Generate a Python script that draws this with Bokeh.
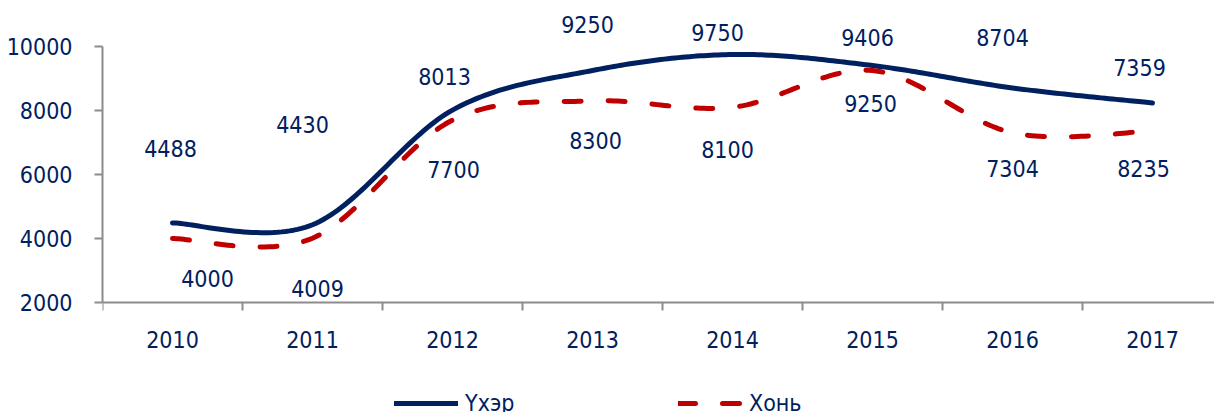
import numpy as np
from bokeh.plotting import figure
from bokeh.models import ColumnDataSource, FixedTicker, Range1d, Legend, LegendItem
from bokeh.core.properties import value
from bokeh.embed import file_html
from bokeh.resources import INLINE

# ---------------- data ----------------
years = ["2010", "2011", "2012", "2013", "2014", "2015", "2016", "2017"]
cattle = [4488, 4430, 8013, 9250, 9750, 9406, 8704, 8235]   # Үхэр
sheep = [4000, 4009, 7700, 8300, 8100, 9250, 7304, 7359]    # Хонь
cattle_labels = ["4488", "4430", "8013", "9250", "9750", "9406", "8704", "7359"]
sheep_labels = ["4000", "4009", "7700", "8300", "8100", "9250", "7304", "8235"]
y_ticks = [2000, 4000, 6000, 8000, 10000]
series_names = ["Үхэр", "Хонь"]

# label placement offsets (pixels)
cattle_dx = [-2, -10, -8, -5, -15, -5, -10, -13]
cattle_dy = [-74, -100, -34, -46, -22, -28, -50, -35]
sheep_dx = [35, 5, 1, 3, -5, -2, 0, -9]
sheep_dy = [40, 50, 49, 40, 42, 33, 36, 37]

FONT = "DejaVu Sans Condensed, DejaVu Sans"
TXT = "#002060"
NAVY = "#002060"
RED = "#C00000"
GRAY = "#8c8c8c"
FS = "23px"


def smooth(xs, ys, n=40):
    P = np.column_stack([xs, ys]).astype(float)
    m = len(P)
    out = [P[0]]
    t = np.linspace(0, 1, n)[1:, None]
    for i in range(m - 1):
        p0 = P[max(i - 1, 0)]
        p1 = P[i]
        p2 = P[i + 1]
        p3 = P[min(i + 2, m - 1)]
        c1 = p1 + (p2 - p0) / 6
        c2 = p2 - (p3 - p1) / 6
        seg = (1 - t) ** 3 * p1 + 3 * (1 - t) ** 2 * t * c1 + 3 * (1 - t) * t ** 2 * c2 + t ** 3 * p2
        out.extend(seg)
    out = np.array(out)
    return out[:, 0], out[:, 1]


x = np.arange(len(years))

# frame spans the full figure height; the x axis is pinned at y = 2000
p = figure(width=1214, height=412, output_backend="svg", toolbar_location=None,
           x_range=Range1d(-0.5, -0.5 + 1112 / 140),
           y_range=Range1d(2000 - 110 * 1000 / 32, 10000 + 46 * 1000 / 32),
           min_border_left=102, min_border_right=0, min_border_top=0, min_border_bottom=0)
p.outline_line_color = None
p.xgrid.visible = False
p.ygrid.visible = False
p.background_fill_color = "white"

cx, cy = smooth(x, cattle)
r1 = p.line(cx, cy, line_color=NAVY, line_width=5, line_cap="round", line_join="round")
sx, sy = smooth(x, sheep)
r2 = p.line(sx, sy, line_color=RED, line_width=5, line_dash="17 27", line_cap="round",
            line_join="round")

src1 = ColumnDataSource(dict(x=x, y=cattle, text=cattle_labels, dx=cattle_dx, dy=cattle_dy))
src2 = ColumnDataSource(dict(x=x, y=sheep, text=sheep_labels, dx=sheep_dx, dy=sheep_dy))
for src in (src1, src2):
    p.text(x="x", y="y", text="text", x_offset="dx", y_offset="dy", source=src,
           text_align="center", text_baseline="middle", text_font=value(FONT),
           text_font_size=FS, text_color=TXT)

xa = p.xaxis[0]
xa.fixed_location = y_ticks[0]
xa.ticker = FixedTicker(ticks=[int(i) for i in x],
                        minor_ticks=[i - 0.5 for i in range(len(years) + 1)])
xa.major_label_overrides = {int(i): yr for i, yr in zip(x, years)}
xa.major_tick_out = 0
xa.major_tick_in = 0
xa.minor_tick_out = 8
xa.minor_tick_in = 0
xa.axis_line_color = GRAY
xa.axis_line_width = 2
xa.minor_tick_line_color = GRAY
xa.minor_tick_line_width = 2
xa.major_label_standoff = 20
xa.major_label_text_font = FONT
xa.major_label_text_font_size = FS
xa.major_label_text_color = TXT

ya = p.yaxis[0]
ya.ticker = FixedTicker(ticks=y_ticks, minor_ticks=[])
ya.bounds = (y_ticks[0], y_ticks[-1])
ya.major_tick_out = 8
ya.major_tick_in = 0
ya.axis_line_color = GRAY
ya.axis_line_width = 2
ya.major_tick_line_color = GRAY
ya.major_tick_line_width = 2
ya.minor_tick_line_color = None
ya.major_label_standoff = 22
ya.major_label_text_font = FONT
ya.major_label_text_font_size = FS
ya.major_label_text_color = TXT

legend = Legend(items=[LegendItem(label=series_names[0], renderers=[r1]),
                       LegendItem(label=series_names[1], renderers=[r2])],
                orientation="horizontal", location=(292, -4),
                glyph_width=64, glyph_height=20, label_standoff=7, label_width=213,
                label_height=20, spacing=0, padding=0, margin=0,
                border_line_color=None, background_fill_alpha=0,
                label_text_font=FONT, label_text_font_size=FS, label_text_color=TXT)
p.add_layout(legend)

open("out.html", "w").write(file_html(p, INLINE))
